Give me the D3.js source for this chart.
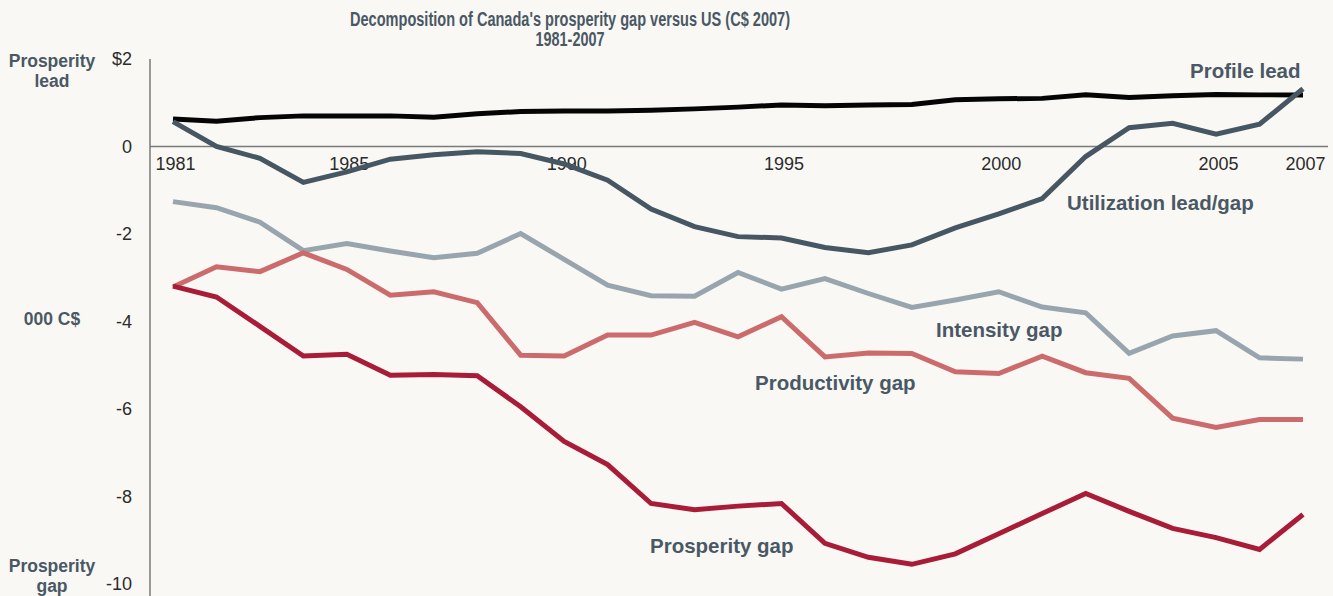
<!DOCTYPE html>
<html>
<head>
<meta charset="utf-8">
<script src="https://cdn.jsdelivr.net/npm/d3@7"></script>
<style>
  html, body { margin: 0; padding: 0; background: #f9f8f4; }
  svg { display: block; font-family: "Liberation Sans", Arial, Helvetica, sans-serif; }
</style>
</head>
<body>
<svg id="chart" width="1333" height="596"></svg>
<script>
// Years on the x axis
const years = [1981, 1982, 1983, 1984, 1985, 1986, 1987, 1988, 1989, 1990,
               1991, 1992, 1993, 1994, 1995, 1996, 1997, 1998, 1999, 2000,
               2001, 2002, 2003, 2004, 2005, 2006, 2007];

// Series values, thousand C$
const profileLead = [0.63, 0.58, 0.66, 0.70, 0.70, 0.70, 0.67, 0.75, 0.80, 0.81,
                     0.81, 0.83, 0.86, 0.90, 0.95, 0.93, 0.95, 0.96, 1.07, 1.09,
                     1.10, 1.18, 1.12, 1.16, 1.19, 1.18, 1.18];
const utilization = [0.57, 0.00, -0.27, -0.82, -0.58, -0.29, -0.19, -0.12, -0.16, -0.40,
                     -0.77, -1.43, -1.83, -2.06, -2.09, -2.31, -2.43, -2.25, -1.86, -1.54,
                     -1.19, -0.23, 0.43, 0.53, 0.28, 0.51, 1.32];
const intensity = [-1.26, -1.40, -1.73, -2.38, -2.22, -2.39, -2.54, -2.44, -1.99, -2.58,
                   -3.17, -3.41, -3.42, -2.88, -3.26, -3.02, -3.36, -3.68, -3.51, -3.32,
                   -3.67, -3.80, -4.73, -4.33, -4.21, -4.83, -4.86];
const productivity = [-3.21, -2.75, -2.86, -2.43, -2.81, -3.40, -3.32, -3.57, -4.77, -4.79,
                      -4.31, -4.31, -4.02, -4.35, -3.89, -4.81, -4.72, -4.73, -5.15, -5.19,
                      -4.79, -5.17, -5.30, -6.21, -6.42, -6.24, -6.24];
const prosperity = [-3.19, -3.44, -4.11, -4.79, -4.75, -5.23, -5.21, -5.24, -5.95, -6.74,
                    -7.27, -8.16, -8.30, -8.22, -8.16, -9.07, -9.39, -9.55, -9.31, -8.85,
                    -8.39, -7.93, -8.34, -8.73, -8.94, -9.21, -8.41];

// Tick labels
const xTicks = [1981, 1985, 1990, 1995, 2000, 2005, 2007];
const yTicks = [2, 0, -2, -4, -6, -8, -10];

// Line labels
const seriesNames = ['Profile lead', 'Utilization lead/gap', 'Intensity gap',
                     'Productivity gap', 'Prosperity gap'];

const svg = d3.select('#chart');
const LABEL_COLOR = '#4a5865';
const TITLE_FONT = '"Liberation Sans Narrow", "Liberation Sans", Arial, sans-serif';

const x = d3.scaleLinear().domain([1981, 2007]).range([173, 1303]);
const y = d3.scaleLinear().domain([-10, 2]).range([584, 59]);

// Title, two lines
[
    { text: "Decomposition of Canada's prosperity gap versus US (C$ 2007)", y: 26, width: 440 },
    { text: '1981-2007', y: 46, width: 69 }
].forEach(t => {
    svg.append('text')
        .attr('x', 570).attr('y', t.y)
        .attr('text-anchor', 'middle')
        .attr('font-family', TITLE_FONT)
        .attr('font-weight', 'bold')
        .attr('font-size', '20px')
        .attr('fill', LABEL_COLOR)
        .attr('textLength', t.width)
        .attr('lengthAdjust', 'spacingAndGlyphs')
        .text(t.text);
});

// Y axis
const yAxis = svg.append('g')
    .attr('transform', 'translate(150,0)')
    .call(d3.axisLeft(y)
        .tickValues(yTicks)
        .tickSize(0)
        .tickPadding(18)
        .tickFormat(d => d === 2 ? '$2' : String(d)));
yAxis.select('.domain').remove();
yAxis.selectAll('text')
    .attr('font-size', '18px')
    .attr('fill', '#2b2b2b')
    .attr('font-family', '"Liberation Sans", Arial, sans-serif');

svg.append('line')
    .attr('x1', 150).attr('x2', 150)
    .attr('y1', y(2)).attr('y2', 596)
    .attr('stroke', '#7a7a7a')
    .attr('stroke-width', 1.5);

// X axis, sitting on zero
const xAxis = svg.append('g')
    .attr('transform', `translate(2,${y(0)})`)
    .call(d3.axisBottom(x)
        .tickValues(xTicks)
        .tickSize(0)
        .tickPadding(11)
        .tickFormat(d3.format('d')));
xAxis.select('.domain').remove();
xAxis.selectAll('text')
    .attr('font-size', '18px')
    .attr('fill', '#2b2b2b')
    .attr('font-family', '"Liberation Sans", Arial, sans-serif');

svg.append('line')
    .attr('x1', 150).attr('x2', 1328)
    .attr('y1', y(0)).attr('y2', y(0))
    .attr('stroke', '#7a7a7a')
    .attr('stroke-width', 1.5);

// Lines - order matters, later ones sit on top
const series = [
    { values: profileLead, color: '#050505' },
    { values: intensity, color: '#98a5af' },
    { values: productivity, color: '#cc6b6b' },
    { values: prosperity, color: '#a91c37' },
    { values: utilization, color: '#475663' }
];

const line = d3.line()
    .x((d, i) => x(years[i]))
    .y(d => y(d));

series.forEach(s => {
    svg.append('path')
        .datum(s.values)
        .attr('d', line)
        .attr('fill', 'none')
        .attr('stroke', s.color)
        .attr('stroke-width', 5)
        .attr('stroke-linejoin', 'miter');
});

// Line labels
const lineLabels = [
    { text: seriesNames[0], x: 1190, y: 78 },
    { text: seriesNames[1], x: 1067, y: 210 },
    { text: seriesNames[2], x: 936, y: 337 },
    { text: seriesNames[3], x: 755, y: 390 },
    { text: seriesNames[4], x: 650, y: 553 }
];
svg.selectAll('.line-label')
    .data(lineLabels)
    .join('text')
    .attr('class', 'line-label')
    .attr('x', d => d.x)
    .attr('y', d => d.y)
    .attr('font-size', '20.5px')
    .attr('font-weight', 'bold')
    .attr('fill', LABEL_COLOR)
    .text(d => d.text);

// Left side annotations
const sideLabels = [
    { text: 'Prosperity', y: 67 },
    { text: 'lead', y: 87 },
    { text: '000 C$', y: 325 },
    { text: 'Prosperity', y: 572 },
    { text: 'gap', y: 592 }
];
svg.selectAll('.side-label')
    .data(sideLabels)
    .join('text')
    .attr('class', 'side-label')
    .attr('x', 52)
    .attr('y', d => d.y)
    .attr('text-anchor', 'middle')
    .attr('font-size', '17.5px')
    .attr('font-weight', 'bold')
    .attr('fill', LABEL_COLOR)
    .text(d => d.text);
</script>
</body>
</html>
